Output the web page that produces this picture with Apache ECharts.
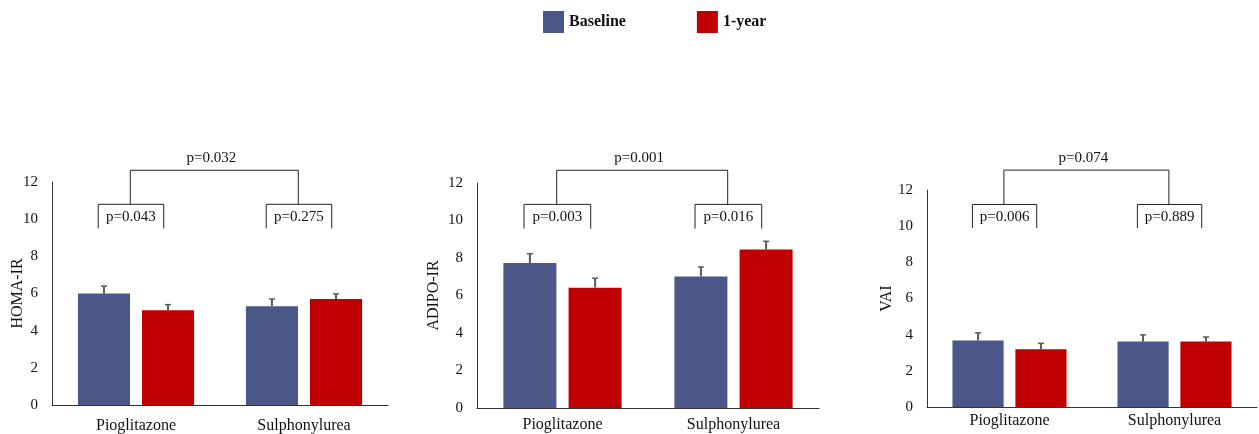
<!DOCTYPE html>
<html>
<head>
<meta charset="utf-8">
<script src="https://cdn.jsdelivr.net/npm/echarts@6/dist/echarts.min.js"></script>
<style>html,body{margin:0;padding:0;background:#fff}#c{width:1259px;height:434px}</style>
</head>
<body>
<div id="c"></div>
<script>
// ---- data ----
var categories = ['Pioglitazone', 'Sulphonylurea'];
var seriesNames = ['Baseline', '1-year'];
var yTicks = [0, 2, 4, 6, 8, 10, 12];

var homaBaseline = [6.0, 5.32];
var homaYear = [5.1, 5.7];
var homaBaselineErr = [0.4, 0.38];
var homaYearErr = [0.3, 0.28];
var homaWithinP = ['p=0.043', 'p=0.275'];
var homaBetweenP = 'p=0.032';
var homaBracket = [9.5, 10.8, 12.63];

var adipoBaseline = [7.73, 7.02];
var adipoYear = [6.42, 8.45];
var adipoBaselineErr = [0.5, 0.5];
var adipoYearErr = [0.5, 0.44];
var adipoWithinP = ['p=0.003', 'p=0.016'];
var adipoBetweenP = 'p=0.001';
var adipoBracket = [9.57, 10.86, 12.68];

var vaiBaseline = [3.68, 3.62];
var vaiYear = [3.19, 3.62];
var vaiBaselineErr = [0.42, 0.37];
var vaiYearErr = [0.33, 0.25];
var vaiWithinP = ['p=0.006', 'p=0.889'];
var vaiBetweenP = 'p=0.074';
var vaiBracket = [9.9, 11.2, 13.1];

var yNames = ['HOMA-IR', 'ADIPO-IR', 'VAI'];

// ---- styling ----
var BLUE = '#4A5788';
var RED = '#C00000';
var FONT = 'Liberation Serif';
var BW = 0.31;          // bar width fraction of band
var GAP = 0.23;         // bar gap fraction of bar width
var OFF = BW * (1 + GAP) / 2;

var panels = [
  {b: homaBaseline, y: homaYear, be: homaBaselineErr, ye: homaYearErr, wp: homaWithinP, bp: homaBetweenP, br: homaBracket,
   grid: {left: 52, top: 182, width: 336, height: 223}, nameGap: 26, labelMargin: 13},
  {b: adipoBaseline, y: adipoYear, be: adipoBaselineErr, ye: adipoYearErr, wp: adipoWithinP, bp: adipoBetweenP, br: adipoBracket,
   grid: {left: 477, top: 183, width: 342, height: 225}, nameGap: 35, labelMargin: 9},
  {b: vaiBaseline, y: vaiYear, be: vaiBaselineErr, ye: vaiYearErr, wp: vaiWithinP, bp: vaiBetweenP, br: vaiBracket,
   grid: {left: 927, top: 190, width: 330, height: 217}, nameGap: 32, labelMargin: 6}
];

var grids = [], xAxes = [], yAxes = [], series = [];

panels.forEach(function (p, i) {
  grids.push(p.grid);
  xAxes.push({
    type: 'category', gridIndex: i, data: categories,
    axisLine: {lineStyle: {color: '#333', width: 1}},
    axisTick: {show: false},
    axisLabel: {color: '#111', fontFamily: FONT, fontSize: 16, margin: p.labelMargin}
  });
  yAxes.push({
    type: 'value', gridIndex: i, min: yTicks[0], max: yTicks[yTicks.length - 1], interval: 2,
    name: yNames[i], nameLocation: 'middle', nameGap: p.nameGap, nameRotate: 90,
    nameMoveOverlap: false,
    nameTextStyle: {color: '#111', fontFamily: FONT, fontSize: 16},
    axisLine: {show: true, lineStyle: {color: '#333', width: 1}},
    axisTick: {show: false},
    splitLine: {show: false},
    axisLabel: {color: '#111', fontFamily: FONT, fontSize: 15, margin: 14}
  });
  series.push({
    name: seriesNames[0], type: 'bar', xAxisIndex: i, yAxisIndex: i, data: p.b,
    barWidth: (BW * 100) + '%', barGap: (GAP * 100) + '%',
    itemStyle: {color: BLUE}, z: 2
  });
  series.push({
    name: seriesNames[1], type: 'bar', xAxisIndex: i, yAxisIndex: i, data: p.y,
    barWidth: (BW * 100) + '%', barGap: (GAP * 100) + '%',
    itemStyle: {color: RED}, z: 2
  });
  // error bars
  var errData = [];
  p.b.forEach(function (v, k) { errData.push([k, v, p.be[k], -1]); });
  p.y.forEach(function (v, k) { errData.push([k, v, p.ye[k], 1]); });
  series.push({
    type: 'custom', xAxisIndex: i, yAxisIndex: i, data: errData, z: 3, silent: true,
    renderItem: function (params, api) {
      var band = api.size([1, 0])[0];
      var c0 = api.coord([api.value(0), api.value(1)]);
      var c1 = api.coord([api.value(0), api.value(1) + api.value(2)]);
      var x = c0[0] + api.value(3) * OFF * band;
      return {type: 'group', children: [
        {type: 'line', shape: {x1: x, y1: c0[1], x2: x, y2: c1[1]}, style: {stroke: '#595959', lineWidth: 2}},
        {type: 'line', shape: {x1: x - 3, y1: c1[1], x2: x + 3, y2: c1[1]}, style: {stroke: '#595959', lineWidth: 1.5}}
      ]};
    }
  });
  // significance brackets
  var br = p.br;
  series.push({
    type: 'custom', xAxisIndex: i, yAxisIndex: i, data: [[0, 0]], z: 4, silent: true, clip: false,
    renderItem: function (params, api) {
      var band = api.size([1, 0])[0];
      var children = [];
      var lineStyle = {stroke: '#222', lineWidth: 1, fill: null};
      var conn = [];
      for (var k = 0; k < 2; k++) {
        var cx = api.coord([k, 0])[0];
        var yb = api.coord([k, br[0]])[1];
        var yt = api.coord([k, br[1]])[1];
        var xl = cx - 0.225 * band, xr = cx + 0.165 * band;
        children.push({type: 'polyline', shape: {points: [[xl, yb], [xl, yt], [xr, yt], [xr, yb]]}, style: lineStyle});
        children.push({type: 'text', style: {text: p.wp[k], x: (xl + xr) / 2, y: (yb + yt) / 2 + 1,
          align: 'center', verticalAlign: 'middle', fill: '#111', font: '15px "' + FONT + '"'}});
        conn.push([cx - 0.034 * band, yt]);
      }
      var yo = api.coord([0, br[2]])[1];
      children.push({type: 'polyline', shape: {points: [conn[0], [conn[0][0], yo], [conn[1][0], yo], conn[1]]}, style: lineStyle});
      children.push({type: 'text', style: {text: p.bp, x: (conn[0][0] + conn[1][0]) / 2 - 3, y: yo - 12,
        align: 'center', verticalAlign: 'middle', fill: '#111', font: '15px "' + FONT + '"'}});
      return {type: 'group', children: children};
    }
  });
});

var chart = echarts.init(document.getElementById('c'), null, {renderer: 'canvas'});
chart.setOption({
  animation: false,
  backgroundColor: '#fff',
  legend: {
    data: seriesNames, left: 543, top: 11, padding: 0, itemWidth: 21, itemHeight: 22, itemGap: 71,
    icon: 'rect',
    textStyle: {color: '#111', fontFamily: FONT, fontSize: 16, fontWeight: 'bold'}
  },
  grid: grids, xAxis: xAxes, yAxis: yAxes, series: series
});
</script>
</body>
</html>
